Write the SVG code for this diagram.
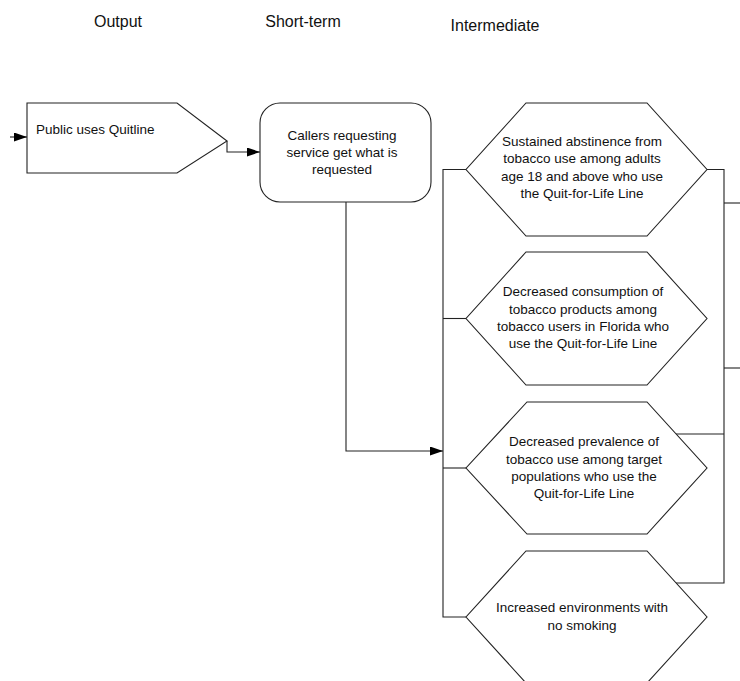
<svg xmlns="http://www.w3.org/2000/svg" width="740" height="681" viewBox="0 0 740 681">
<style>
text{font-family:"Liberation Sans",Arial,sans-serif;fill:#111;}
.hdr{font-size:16px;text-anchor:middle;}
.lbl{font-size:13.5px;text-anchor:middle;}
.shape{fill:#fff;stroke:#222;stroke-width:1.1;}
.conn{fill:none;stroke:#222;stroke-width:1.1;}
</style>
<defs>
<marker id="arr" markerUnits="userSpaceOnUse" markerWidth="14" markerHeight="10" refX="13" refY="4.5" orient="auto">
<path d="M0,0 L13,4.5 L0,9 z" fill="#000"/>
</marker>
</defs>
<rect width="740" height="681" fill="#fff"/>
<g id="headers">
<text class="hdr" x="118" y="27">Output</text>
<text class="hdr" x="303" y="27">Short-term</text>
<text class="hdr" x="495" y="31">Intermediate</text>
</g>
<g id="connectors">
<path class="conn" d="M10,137 L27,137" marker-end="url(#arr)"/>
<path class="conn" d="M227,141 L227,152 L260,152" marker-end="url(#arr)"/>
<path class="conn" d="M346,202 L346,451 L443,451" marker-end="url(#arr)"/>
<path class="conn" d="M466,169.5 L443,169.5 L443,617 L466,617"/>
<path class="conn" d="M443,318.5 L466,318.5"/>
<path class="conn" d="M443,468 L466,468"/>
<path class="conn" d="M707,169.5 L724,169.5 L724,583 L676,583"/>
<path class="conn" d="M676,434 L724,434"/>
<path class="conn" d="M724,203 L740,203"/>
<path class="conn" d="M724,368 L740,368"/>
</g>
<g id="node-output">
<path class="shape" d="M27,103 L177,103 L227,141 L177,173 L27,173 Z"/>
<text x="36" y="133.5" style="font-size:13.5px">Public uses Quitline</text>
</g>
<g id="node-shortterm">
<rect class="shape" x="260" y="103" width="171" height="99" rx="20" ry="20"/>
<text class="lbl" x="342" y="139.5">Callers requesting</text>
<text class="lbl" x="342" y="156.5">service get what is</text>
<text class="lbl" x="342" y="173.5">requested</text>
</g>
<g id="node-abstinence">
<path class="shape" d="M526,103 L647,103 L707,169.5 L647,236 L526,236 L466,169.5 Z"/>
<text class="lbl" x="582" y="145.5">Sustained abstinence from</text>
<text class="lbl" x="582" y="163">tobacco use among adults</text>
<text class="lbl" x="582" y="180.5">age 18 and above who use</text>
<text class="lbl" x="582" y="198">the Quit-for-Life Line</text>
</g>
<g id="node-consumption">
<path class="shape" d="M526,252 L647,252 L707,318.5 L647,385 L526,385 L466,318.5 Z"/>
<text class="lbl" x="583" y="296">Decreased consumption of</text>
<text class="lbl" x="583" y="313.5">tobacco products among</text>
<text class="lbl" x="583" y="331">tobacco users in Florida who</text>
<text class="lbl" x="583" y="348">use the Quit-for-Life Line</text>
</g>
<g id="node-prevalence">
<path class="shape" d="M527,402 L647,402 L707,468 L647,534 L527,534 L466,468 Z"/>
<text class="lbl" x="584" y="446">Decreased prevalence of</text>
<text class="lbl" x="584" y="463.5">tobacco use among target</text>
<text class="lbl" x="584" y="481">populations who use the</text>
<text class="lbl" x="584" y="498">Quit-for-Life Line</text>
</g>
<g id="node-environments">
<path class="shape" d="M526,551 L647,551 L707,617 L647,683 L526,683 L466,617 Z"/>
<text class="lbl" x="582" y="612">Increased environments with</text>
<text class="lbl" x="582" y="629.5">no smoking</text>
</g>
</svg>
